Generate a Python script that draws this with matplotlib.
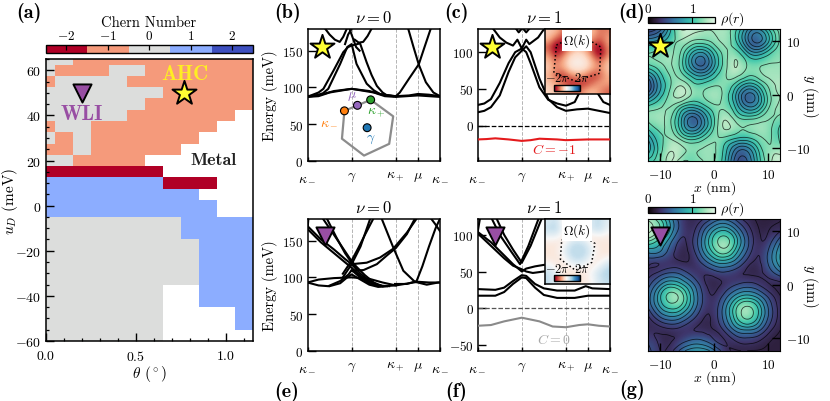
import numpy as np
import matplotlib
matplotlib.use("Agg")
import matplotlib.pyplot as plt
import matplotlib.tri as mtri
from matplotlib.cm import ScalarMappable
from matplotlib.colors import BoundaryNorm, LinearSegmentedColormap, ListedColormap, Normalize
from matplotlib.ticker import MultipleLocator

plt.rcParams["font.family"] = "cmr10"
plt.rcParams["mathtext.fontset"] = "cm"
plt.rcParams["axes.formatter.use_mathtext"] = True
plt.rcParams["axes.unicode_minus"] = False

W, H = 830, 402
N = np.nan

# panel a: Chern number phase diagram
theta_edges = [0, .05, .15, .25, .35, .45, .55, .65, .75, .85, .95, 1.05, 1.15]
u_edges = [65, 62.5, 57.5, 52.5, 47.5, 42.5, 37.5, 32.5, 27.5, 22.5, 17.5, 12.5, 7.5, 2.5,
           -5, -15, -25, -35, -45, -55, -60]
chern = [
    [0, 0, -1, -1, -1, -1, -1, -1, -1, -1, -1, -1],
    [0, -1, -1, -1, 0, 0, -1, -1, -1, -1, -1, -1],
    [-1, 0, 0, 0, 0, -1, -1, -1, -1, -1, -1, -1],
    [0, 0, 0, 0, 0, 0, 0, -1, -1, -1, -1, -1],
    [0, 0, 0, 0, 0, 0, -1, -1, -1, -1, -1, -1],
    [0, 0, 0, 0, 0, -1, -1, -1, -1, -1, -1, N],
    [-1, 0, 0, -1, -1, -1, -1, -1, -1, -1, N, N],
    [0, -1, 0, -1, -1, -1, -1, -1, -1, N, N, N],
    [-1, -1, 0, -1, -1, -1, -1, -1, N, N, N, N],
    [0, 0, -1, -1, -1, -1, N, N, N, N, N, N],
    [-2, -2, -2, -2, -2, -2, -2, N, N, N, N, N],
    [1, 1, 1, 1, 1, 1, 1, -2, -2, -2, N, N],
    [1, 1, 1, 1, 1, 1, 1, 1, 1, N, N, N],
    [1, 1, 1, 1, 1, 1, 1, 1, 1, 1, N, N],
    [0, 0, 0, 0, 0, 0, 0, 0, 1, 1, 1, 1],
    [0, 0, 0, 0, 0, 0, 0, 0, 0, 1, 1, 1],
    [0, 0, 0, 0, 0, 0, 0, 0, 0, 1, 1, 1],
    [0, 0, 0, 0, 0, 0, 0, N, N, 1, 1, 1],
    [0, 0, 0, 0, 0, 0, 0, N, N, N, N, 1],
    [0, 0, 0, 0, 0, 0, 0, N, N, N, N, N],
]
chern_colors = ["#b00026", "#f59a7b", "#dcdddc", "#8cadff", "#3d4fbf"]
chern_ticks = [-2, -1, 0, 1, 2]

# k path
k_ticks = [0, 1, 2, 2.5, 3]
k_labels = [r"$\kappa_-$", r"$\gamma$", r"$\kappa_+$", r"$\mu$", r"$\kappa_-$"]

# panel b bands (k, energy)
b_bands = [
    ([0, .3, .6, 1, 1.4, 1.7, 2, 2.3, 2.5, 2.75, 3], [88, 90, 95, 98, 95, 90, 88, 89, 91, 90, 88]),
    ([0, .25, .5, 1, 1.5, 1.75, 2, 2.5, 3], [87, 88, 93, 98, 93, 88, 87, 89, 87]),
    ([0, .12, .25, .36, .59, .81, .92, 1, 1.19, 1.34, 1.45, 1.57, 1.7, 1.8, 2],
     [87, 90, 93, 98, 123, 148, 155, 157, 160, 134, 117, 102, 93, 89, 88]),
    ([0, .2, .35, .47, .74, .9, 1, 1.11, 1.34, 1.5, 1.64, 1.94],
     [87, 89, 92, 98, 132, 155, 159, 132, 105, 96, 91, 88]),
    ([.4, .5, .62, .73, .81, .89], [180, 172, 165, 162, 169, 180]),
    ([1.07, 1.16, 1.26, 1.36, 1.45], [165, 161, 162, 170, 180]),
    ([.85, .92, 1, 1.1, 1.2], [159, 172, 180, 190, 200]),
    ([.85, .95, 1.04, 1.1, 1.18], [200, 180, 165, 155, 150]),
    ([2, 2.09, 2.3, 2.52, 2.65, 2.79], [88, 93, 112, 131.5, 155, 180]),
    ([2.28, 2.4, 2.52, 2.68, 2.85, 3], [180, 155, 131, 107, 93, 88]),
]
bz_k = [.836, 1.43, 1.94, 1.85, 1.28, .78, .836]
bz_e = [68, 83, 60.5, 23, 7, 30, 68]
bz_points_k = [.836, 1.13, 1.43, 1.35]
bz_points_e = [68, 75.5, 83, 45]
bz_colors = ["#ff7f0e", "#9467bd", "#2ca02c", "#1f77b4"]
bz_label_k = [.49, 1.0, 1.55, 1.43]
bz_label_e = [54, 89, 66, 30]
bz_labels = [r"$\kappa_-$", r"$\mu$", r"$\kappa_+$", r"$\gamma$"]

# panel c bands
c_red_k = [0, .2, .4, .7, 1, 1.2, 1.4, 1.8, 2, 2.5, 3]
c_red_e = [-19, -18.5, -17.5, -19, -21, -20, -18, -19, -20, -19, -19]
c_bands = [
    ([0, .15, .3, .5, .7, .85, 1, 1.1, 1.2, 1.4, 1.6, 1.8, 2, 2.25, 2.5, 2.75, 3],
     [18, 20, 25, 41, 73, 93, 102, 108, 100, 64, 36, 25, 20, 22, 23, 20, 17]),
    ([0, .15, .3, .5, .7, .85, 1, 1.1, 1.2, 1.4, 1.6, 1.8, 2, 2.2, 2.3, 2.4, 2.5],
     [28, 30, 36, 58, 85, 100, 105, 100, 85, 52, 35, 30, 27, 32, 44, 65, 100]),
    ([2.5, 2.6, 2.73, 2.85, 3], [100, 65, 43, 32, 28]),
    ([.35, .5, .65, .8, .9, 1, 1.1, 1.17, 1.37, 1.51], [132, 120, 113, 109, 117, 105, 117, 111, 120, 132]),
    ([.87, .93, 1], [132, 127, 132]),
    ([1.03, 1.1, 1.17], [132, 127, 132]),
]

# panel e bands
e_bands = [
    ([0, .25, .6, 1, 1.4, 1.7, 2, 2.3, 2.5, 2.75, 3], [93, 97, 99, 100, 98, 93, 89, 92, 94, 93, 93]),
    ([0, .25, .47, .74, .93, 1, 1.19, 1.4, 1.6, 1.8], [93, 89, 88, 95, 104, 110, 100, 92, 88, 88]),
    ([.5, .74, .9, 1, 1.2, 1.4, 1.6, 1.8], [88, 92, 100, 104, 97, 90, 87, 88]),
    ([0, .3, .6, .9, 1, 1.2, 1.45, 1.7, 2], [166, 148, 133, 118, 113, 102, 92, 88, 89]),
    ([0, .3, .6, .85, 1, 1.2, 1.4, 1.6, 1.85], [170, 152, 138, 125, 118, 105, 95, 89, 88]),
    ([.35, .6, .8, 1, 1.1, 1.3, 1.5, 1.7], [180, 158, 140, 122, 115, 103, 93, 88]),
    ([.44, .65, .85, 1, 1.1], [180, 155, 133, 120, 112]),
    ([.8, 1, 1.15, 1.3, 1.49], [105, 123, 140, 158, 180]),
    ([.8, 1, 1.2, 1.42], [100, 118, 142, 180]),
    ([1, 1.34, 1.64, 1.94, 2.25, 2.47], [118, 120, 127, 139, 161, 180]),
    ([1, 1.27, 1.57, 1.8, 2, 2.25, 2.43], [109, 110, 118, 130, 140, 159, 180]),
    ([1.68, 1.94, 2.17, 2.43, 2.7, 2.96, 3], [180, 141, 109, 94, 90, 93, 93]),
    ([1.98, 2.25, 2.47, 2.6, 2.75, 2.9, 3], [91, 91, 95, 115, 142, 167, 180]),
    ([2.8, 2.9, 3], [180, 172, 163]),
    ([0, .02], [165, 180]),
]

# panel f bands
f_gray_k = [0, .3, .6, 1, 1.4, 1.7, 2, 2.3, 2.5, 2.75, 3]
f_gray_e = [-24, -23, -18, -13, -18, -25, -26, -23, -22, -24, -25]
f_bands = [
    ([0, .4, .6, .8, 1, 1.1, 1.3, 1.5, 1.8, 2.2, 2.5, 3], [17, 17, 22, 33, 42, 41, 28, 18, 14, 14, 17, 17]),
    ([0, .4, .6, .8, 1, 1.1, 1.3, 1.5, 1.8, 2.2, 2.45, 2.6, 3], [26, 25, 28, 37, 45, 44, 33, 27, 24, 24, 30, 27, 26]),
    ([0, .3, .6, .8, 1, 1.1, 1.25, 1.5], [102, 85, 68, 58, 53, 50, 48, 50]),
    ([0, .3, .6, .8, 1, 1.1, 1.3, 1.5], [104, 90, 72, 60, 50, 54, 57, 59]),
    ([.43, .6, .8, 1, 1.2, 1.45], [122, 100, 80, 62, 85, 122]),
    ([.32, .5, .75, .96, 1.15, 1.38], [122, 100, 78, 60, 85, 122]),
    ([0, .05], [104, 122]),
]

# density maps, 13x13, top row is y = +12.3
rho_d = [
    [.25, .45, .95, 1.4, 1.3, 1.2, 1.2, 1.25, 1.02, .6, .42, .75, 1.1],
    [.75, .85, 1.1, 1.18, 1.03, 1.0, 1.1, 1.25, .98, .45, .18, .55, 1.05],
    [1.15, 1.2, 1.22, 1.0, .62, .5, .82, 1.13, 1.2, .8, .62, .88, 1.12],
    [1.08, 1.18, 1.2, .92, .38, .2, .65, 1.1, 1.38, 1.15, 1.08, 1.15, 1.18],
    [.65, .95, 1.2, 1.02, .68, .55, .85, 1.15, 1.3, 1.1, 1.13, 1.25, 1.2],
    [.25, .78, 1.15, 1.3, 1.05, 1.02, 1.13, 1.15, .95, .68, .8, 1.08, 1.28],
    [.48, .88, 1.25, 1.45, 1.15, 1.18, 1.28, 1.1, .68, .22, .42, .95, 1.2],
    [1.0, 1.13, 1.2, .95, .8, .95, 1.15, 1.12, .78, .38, .5, .98, 1.22],
    [1.22, 1.25, 1.05, .6, .25, .55, 1.0, 1.3, 1.03, .88, .95, 1.15, 1.15],
    [1.05, 1.22, 1.05, .6, .25, .55, 1.02, 1.4, 1.25, 1.2, 1.25, 1.22, .95],
    [.72, 1.1, 1.18, .95, .8, .95, 1.15, 1.12, .98, .95, 1.1, 1.2, .95],
    [.62, 1.05, 1.35, 1.25, 1.15, 1.2, 1.2, .92, .5, .45, .85, 1.15, 1.08],
    [.92, 1.15, 1.4, 1.05, 1.05, 1.18, 1.18, .85, .3, .25, .75, 1.12, 1.35],
]
rho_g = [
    [1.28, .95, .48, .1, .05, .18, .42, .5, .32, .1, .02, 0, .03],
    [1.48, 1.1, .55, .12, .12, .5, .9, 1.05, .72, .32, .05, .04, .15],
    [.95, .68, .28, .02, .18, .65, 1.2, 1.48, 1.0, .45, .08, .12, .5],
    [.42, .4, .12, 0, .12, .55, 1.0, 1.2, .8, .35, .05, .25, .72],
    [.08, .05, .08, .06, .06, .25, .52, .6, .42, .12, .02, .25, .7],
    [.1, .28, .42, .35, .15, .05, .1, .15, .08, .03, .02, .1, .3],
    [.3, .68, .95, .8, .45, .1, 0, .08, .2, .28, .2, .05, 0],
    [.45, 1.0, 1.45, 1.22, .65, .18, .05, .28, .62, .78, .62, .3, .04],
    [.4, .88, 1.2, 1.05, .58, .15, .1, .5, 1.05, 1.38, 1.05, .5, .1],
    [.15, .5, .68, .58, .28, .05, .1, .5, 1.05, 1.42, 1.05, .5, .1],
    [.04, .12, .2, .15, .05, .02, .05, .3, .68, .82, .68, .3, .05],
    [.15, .02, .02, .1, .2, .18, .04, .05, .25, .32, .25, .07, 0],
    [.28, .05, .12, .45, .68, .68, .42, .1, .03, .04, .03, 0, 0],
]
rho_levels_d = [.25, .4, .55, .7, .85, 1.0, 1.18, 1.37]
rho_levels_g = [.04, .2, .38, .56, .74, .92, 1.1, 1.36]

# Berry curvature insets, 9x9, top row first
omega_c = [
    [-.25, -.3, -.55, -.6, -.45, -.3, -.3, -.55, -.5],
    [-.3, -.6, -.8, -.65, -.5, -.4, -.45, -.6, -.4],
    [-.6, -1, -.85, -.5, -.35, -.45, -.75, -.9, -.45],
    [-.45, -.85, -.55, -.25, -.15, -.25, -.6, -1, -.5],
    [-.3, -.55, -.35, -.1, -.05, -.1, -.35, -.6, -.3],
    [-.25, -.5, -.4, -.15, -.1, -.15, -.35, -.5, -.25],
    [-.35, -.6, -.75, -.5, -.4, -.5, -.75, -.6, -.35],
    [-.25, -.4, -.6, -.8, -.75, -.75, -.55, -.4, -.4],
    [-.2, -.3, -.35, -.5, -.55, -.4, -.3, -.45, -.6],
]
omega_f = [
    [.15, .25, -.08, -.1, -.12, 0, .2, .25, .1],
    [.25, .3, 0, -.12, -.12, 0, .2, .25, .05],
    [.05, .05, -.1, -.08, 0, -.08, -.1, -.05, -.08],
    [-.1, -.12, -.05, .2, .3, .2, -.05, -.12, -.1],
    [-.12, -.1, .05, .3, .2, .3, .05, -.1, -.12],
    [-.1, -.12, -.05, .2, .3, .2, -.05, -.1, 0],
    [.05, -.08, -.12, -.05, .05, -.05, -.1, .05, .25],
    [.25, .1, -.1, -.12, -.12, -.1, .05, .25, .3],
    [.25, .1, -.1, -.1, -.12, -.1, 0, .2, .25],
]
# dotted zone boundary in inset axes fractions
hex_c_x = [.18, .52, .86, .84, .47, .14, .18]
hex_c_y = [.75, .92, .72, .32, .2, .33, .75]
hex_f_x = [.26, .53, .77, .72, .47, .24, .26]
hex_f_y = [.67, .78, .62, .33, .21, .38, .67]

mako = LinearSegmentedColormap.from_list("mako_like", [
    (11/255, 4/255, 5/255), (43/255, 28/255, 53/255), (62/255, 53/255, 107/255),
    (56/255, 85/255, 140/255), (53/255, 118/255, 160/255), (52/255, 147/255, 167/255),
    (53/255, 178/255, 172/255), (73/255, 203/255, 173/255), (129/255, 220/255, 178/255),
    (184/255, 232/255, 196/255), (222/255, 245/255, 229/255)])

STAR = dict(marker="*", s=330, c="#ffff33", edgecolors="k", linewidths=1.4, zorder=8)
TRI = dict(marker="v", s=170, c="#984ea3", edgecolors="k", linewidths=1.4, zorder=8)


def box(left, top, right, bottom):
    return fig.add_axes([left / W, 1 - bottom / H, (right - left) / W, (bottom - top) / H])


def label_px(x, y, s, **kw):
    fig.text(x / W, 1 - y / H, s, ha="center", va="center", **kw)


def band_panel(pos, ylim, yticks, bands, title):
    ax = box(*pos)
    for k in k_ticks[1:-1]:
        ax.axvline(k, color="#b5b5b5", ls="--", lw=.7, zorder=1)
    for k, e in bands:
        ax.plot(k, e, color="k", lw=1.5, solid_joinstyle="round", zorder=3)
    ax.set_xlim(0, 3)
    ax.set_ylim(*ylim)
    ax.set_xticks(k_ticks, k_labels, fontsize=10)
    ax.set_yticks(yticks, [f"${v}$" for v in yticks], fontsize=9.5)
    ax.tick_params(axis="x", direction="in", length=3, width=1, pad=7)
    ax.tick_params(axis="y", direction="in", length=5.5, width=1, pad=3)
    for s in ax.spines.values():
        s.set_linewidth(1.1)
    ax.set_title(title, fontsize=12, pad=5)
    return ax


def density_panel(pos, cbar_top, rho, levels, clim):
    ax = box(*pos)
    ax.imshow(rho, cmap=mako, vmin=clim[0], vmax=clim[1], extent=[-12.3, 12.3, -12.3, 12.3],
              interpolation="bicubic", origin="upper", aspect="auto")
    grid = np.linspace(-12.3, 12.3, 13)
    gx, gy = np.meshgrid(grid, grid[::-1])
    tri = mtri.Triangulation(gx.ravel(), gy.ravel())
    fine, z = mtri.UniformTriRefiner(tri).refine_field(np.array(rho).ravel(), subdiv=3)
    ax.tricontour(fine, z, levels=levels, colors="k", linewidths=.6, alpha=.7)
    ax.set_xlim(-12.3, 12.3)
    ax.set_ylim(-12.3, 12.3)
    ax.set_xticks([-10, 0, 10], ["$-10$", "$0$", "$10$"], fontsize=9.5)
    ax.set_yticks([-10, 0, 10], ["$-10$", "$0$", "$10$"], fontsize=9.5)
    ax.yaxis.tick_right()
    ax.tick_params(direction="in", length=5.5, width=1, pad=4)
    ax.tick_params(axis="x", length=5.5, pad=5)
    ax.set_xlabel("$x$ (nm)", fontsize=10, labelpad=-1.5)
    ax.yaxis.set_label_position("right")
    ax.set_ylabel("$y$ (nm)", fontsize=10.5, rotation=-90, labelpad=7)
    cax = box(648, cbar_top, 714.5, cbar_top + 6.6)
    cb = fig.colorbar(ScalarMappable(Normalize(0, 1.5), mako), cax=cax, orientation="horizontal")
    cb.set_ticks([0, 1], labels=["$0$", "$1$"], fontsize=9.5)
    cax.xaxis.tick_top()
    cax.tick_params(direction="in", length=4.5, width=.8, pad=1)
    cb.outline.set_linewidth(.9)
    label_px(732, cbar_top + 1.5, r"$\rho(r)$", fontsize=10)
    return ax


def omega_inset(pos, omega, hx, hy, cbar_pos, tick_y):
    ax = box(*pos)
    ax.imshow(omega, cmap="RdBu", vmin=-1, vmax=1, extent=[0, 1, 0, 1], origin="upper",
              interpolation="bicubic", aspect="auto", zorder=1)
    ax.plot(hx, hy, color="k", ls=":", lw=1.1, zorder=2)
    ax.set_xlim(0, 1)
    ax.set_ylim(0, 1)
    ax.set_xticks([])
    ax.set_yticks([])
    ax.set_zorder(6)
    ax.text(.49, .82, r"$\Omega(k)$", ha="center", va="center", fontsize=9.5, zorder=4,
            bbox=dict(fc="w", ec="none", pad=1))
    ax.text(.2, tick_y, r"$-2\pi$", ha="center", va="center", fontsize=9, zorder=4)
    ax.text(.57, tick_y, r"$2\pi$", ha="center", va="center", fontsize=9, zorder=4)
    for s in ax.spines.values():
        s.set_linewidth(1.1)
    cax = box(*cbar_pos)
    cb = fig.colorbar(ScalarMappable(Normalize(-1, 1), "RdBu"), cax=cax, orientation="horizontal")
    cb.set_ticks([])
    cb.outline.set_linewidth(1)
    cax.set_zorder(7)


fig = plt.figure(figsize=(W / 100, H / 100), dpi=100)

# (a)
ax = box(45.5, 60, 253, 342)
cmap = ListedColormap(chern_colors)
norm = BoundaryNorm([-2.5, -1.5, -.5, .5, 1.5, 2.5], 5)
ax.pcolormesh(theta_edges, u_edges, np.array(chern, float), cmap=cmap, norm=norm)
ax.set_xlim(0, 1.15)
ax.set_ylim(-60, 65)
ax.set_xticks([0, .5, 1], ["$0.0$", "$0.5$", "$1.0$"], fontsize=10)
ax.set_yticks([-60, -40, -20, 0, 20, 40, 60], ["$-60$", "$-40$", "$-20$", "$0$", "$20$", "$40$", "$60$"], fontsize=10)
ax.xaxis.set_minor_locator(MultipleLocator(.1))
ax.yaxis.set_minor_locator(MultipleLocator(5))
ax.tick_params(which="major", direction="in", length=5.5, width=1, pad=3)
ax.tick_params(which="minor", direction="in", length=2.5, width=.9)
ax.tick_params(axis="x", which="major", pad=6)
ax.set_xlabel(r"$\theta$ ($^\circ$)", fontsize=11, labelpad=0)
ax.set_ylabel("$u_D$ (meV)", fontsize=11)
ax.yaxis.set_label_coords(-.125, .5)
for s in ax.spines.values():
    s.set_linewidth(1.1)
ax.scatter([.77], [50], **STAR)
ax.scatter([.2], [50], **TRI)
ax.text(.77, 58.5, "AHC", color="#ffee22", fontsize=15, family="cmb10", ha="center", va="center", zorder=7)
ax.text(.2, 41, "WLI", color="#984ea3", fontsize=15, family="cmb10", ha="center", va="center", zorder=7)
ax.text(.93, 20.5, "Metal", color="#222222", fontsize=13, family="cmb10", ha="center", va="center", zorder=7)

cax = box(45.5, 46, 253, 54.3)
cb = fig.colorbar(ScalarMappable(norm, cmap), cax=cax, orientation="horizontal")
cb.set_ticks(chern_ticks, labels=["$-2$", "$-1$", "$0$", "$1$", "$2$"], fontsize=9.5)
cax.minorticks_off()
cax.xaxis.tick_top()
cax.tick_params(direction="in", length=3.5, width=.9, pad=2)
cb.outline.set_linewidth(1)
label_px(149, 23, "Chern Number", fontsize=10.5)

# (b)
ax_b = band_panel((307.5, 29.7, 440, 161.7), (0, 180), [0, 50, 100, 150], b_bands, r"$\nu = 0$")
ax_b.set_ylabel("Energy (meV)", fontsize=10.5, labelpad=3)
ax_b.plot(bz_k, bz_e, color="#8c8c8c", lw=1.6, zorder=4)
ax_b.scatter(bz_points_k, bz_points_e, c=bz_colors, s=32, edgecolors="k", linewidths=.8, zorder=5)
for k, e, s, col in zip(bz_label_k, bz_label_e, bz_labels, bz_colors):
    ax_b.text(k, e, s, color=col, fontsize=10, ha="center", va="center", zorder=5)
ax_b.scatter([.107], [.859], transform=ax_b.transAxes, **STAR)

# (c)
ax_c = band_panel((477.7, 29.7, 610, 161.7), (-48, 132), [0, 50, 100], c_bands, r"$\nu = 1$")
ax_c.axhline(0, color="k", ls="--", lw=.9, zorder=2)
ax_c.plot(c_red_k, c_red_e, color="#e41a1c", lw=1.5, zorder=3)
ax_c.text(1.73, -32, "$C = -1$", color="#e41a1c", fontsize=10, ha="center", va="center")
ax_c.scatter([.107], [.859], transform=ax_c.transAxes, **STAR)
omega_inset((544.7, 29.7, 610, 95.3), omega_c, hex_c_x, hex_c_y, (553.5, 85.7, 580, 92.3), .25)

# (d)
ax_d = density_panel((648, 29.7, 780.3, 161.7), 17.7, rho_d, rho_levels_d, (-.15, 1.42))
ax_d.scatter([-10], [9], **STAR)

# (e)
ax_e = band_panel((307.5, 219.7, 440, 351.7), (0, 180), [0, 50, 100, 150], e_bands, r"$\nu = 0$")
ax_e.set_ylabel("Energy (meV)", fontsize=10.5, labelpad=3)
ax_e.scatter([.132], [.867], transform=ax_e.transAxes, **TRI)

# (f)
ax_f = band_panel((477.7, 219.7, 610, 351.7), (-58, 122), [-50, 0, 50, 100], f_bands, r"$\nu = 1$")
ax_f.axhline(0, color="#555555", ls="--", lw=.9, zorder=2)
ax_f.plot(f_gray_k, f_gray_e, color="#8a8a8a", lw=1.5, zorder=3)
ax_f.text(1.73, -42, "$C = 0$", color="#a8a8a8", fontsize=10, ha="center", va="center")
ax_f.scatter([.13], [.869], transform=ax_f.transAxes, **TRI)
omega_inset((544.7, 219.7, 610, 285), omega_f, hex_f_x, hex_f_y, (553.5, 275.5, 580, 282), .24)

# (g)
ax_g = density_panel((648, 219.7, 780.3, 351.7), 207.7, rho_g, rho_levels_g, (-.2, 1.5))
ax_g.scatter([-10], [9.1], **TRI)

for x, y, s in [(29, 13, "(a)"), (288, 13, "(b)"), (456, 13, "(c)"), (632, 13, "(d)"),
                (287, 392, "(e)"), (456, 392, "(f)"), (632, 390, "(g)")]:
    label_px(x, y, s, fontsize=14.5, family="cmb10")

fig.savefig("out.png", dpi=100)
